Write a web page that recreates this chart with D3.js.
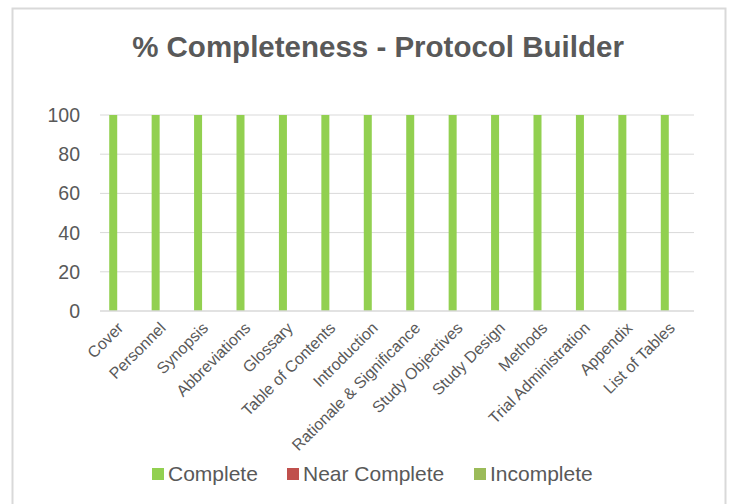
<!DOCTYPE html>
<html>
<head>
<meta charset="utf-8">
<script src="https://cdn.jsdelivr.net/npm/d3@7"></script>
<style>
  body { margin: 0; background: #fff; }
  svg { display: block; font-family: "Liberation Sans", Arial, sans-serif; }
</style>
</head>
<body>
<svg id="chart" width="729" height="504"></svg>
<script>
// data
const categories = ["Cover", "Personnel", "Synopsis", "Abbreviations", "Glossary",
  "Table of Contents", "Introduction", "Rationale & Significance", "Study Objectives",
  "Study Design", "Methods", "Trial Administration", "Appendix", "List of Tables"];
const complete     = [100, 100, 100, 100, 100, 100, 100, 100, 100, 100, 100, 100, 100, 100];
const nearComplete = [0, 0, 0, 0, 0, 0, 0, 0, 0, 0, 0, 0, 0, 0];
const incomplete   = [0, 0, 0, 0, 0, 0, 0, 0, 0, 0, 0, 0, 0, 0];
const seriesNames  = ["Complete", "Near Complete", "Incomplete"];
const yTicks = [0, 20, 40, 60, 80, 100];

const colors = ["#92d050", "#c0504d", "#9bbb59"];
const series = [complete, nearComplete, incomplete];

const svg = d3.select("#chart");
const plot = { left: 100, right: 694, top: 115, bottom: 311 };

// chart border
svg.append("rect")
    .attr("x", 12.5).attr("y", 8.5)
    .attr("width", 713).attr("height", 510)
    .attr("fill", "#fff")
    .attr("stroke", "#d9d9d9")
    .attr("stroke-width", 2);

svg.append("text")
    .attr("x", 378).attr("y", 57)
    .attr("text-anchor", "middle")
    .attr("font-size", 29.5)
    .attr("font-weight", "bold")
    .attr("fill", "#595959")
    .text("% Completeness - Protocol Builder");

const x = d3.scaleBand().domain(categories).range([plot.left, plot.right]);
const x1 = d3.scaleBand().domain(d3.range(series.length))
    .range([-12, 12]);
const y = d3.scaleLinear().domain([0, 100]).range([plot.bottom, plot.top]);

// gridlines
svg.append("g").selectAll("line")
  .data(yTicks.filter(d => d > 0))
  .join("line")
    .attr("x1", plot.left).attr("x2", plot.right)
    .attr("y1", d => y(d)).attr("y2", d => y(d))
    .attr("stroke", "#d9d9d9").attr("stroke-width", 1);

// y tick labels
svg.append("g").selectAll("text")
  .data(yTicks)
  .join("text")
    .attr("x", 80).attr("y", d => y(d) + 7)
    .attr("text-anchor", "end")
    .attr("font-size", 19.5)
    .attr("fill", "#595959")
    .text(d => d);

// bars
series.forEach(function(vals, s) {
  svg.append("g").selectAll("rect")
    .data(vals)
    .join("rect")
      .attr("x", (d, i) => x(categories[i]) + x.bandwidth() / 2 + x1(s))
      .attr("width", x1.bandwidth())
      .attr("y", d => y(d))
      .attr("height", d => y(0) - y(d))
      .attr("fill", colors[s]);
});

// baseline
svg.append("line")
    .attr("x1", plot.left).attr("x2", plot.right)
    .attr("y1", y(0)).attr("y2", y(0))
    .attr("stroke", "#d9d9d9").attr("stroke-width", 1.5);

// category labels
svg.append("g").selectAll("text")
  .data(categories)
  .join("text")
    .attr("text-anchor", "end")
    .attr("font-size", 16)
    .attr("fill", "#595959")
    .attr("transform", d => "translate(" + (x(d) + x.bandwidth() / 2 + 3) + "," + (y(0) + 18) + ") rotate(-45)")
    .text(d => d);

// legend
const legendX = [152, 287, 474];
const legend = svg.append("g").selectAll("g")
  .data(seriesNames)
  .join("g")
    .attr("transform", (d, i) => "translate(" + legendX[i] + ",468)");
legend.append("rect")
    .attr("width", 12).attr("height", 12)
    .attr("fill", (d, i) => colors[i]);
legend.append("text")
    .attr("x", 16).attr("y", 13)
    .attr("font-size", 21)
    .attr("fill", "#595959")
    .text(d => d);
</script>
</body>
</html>
